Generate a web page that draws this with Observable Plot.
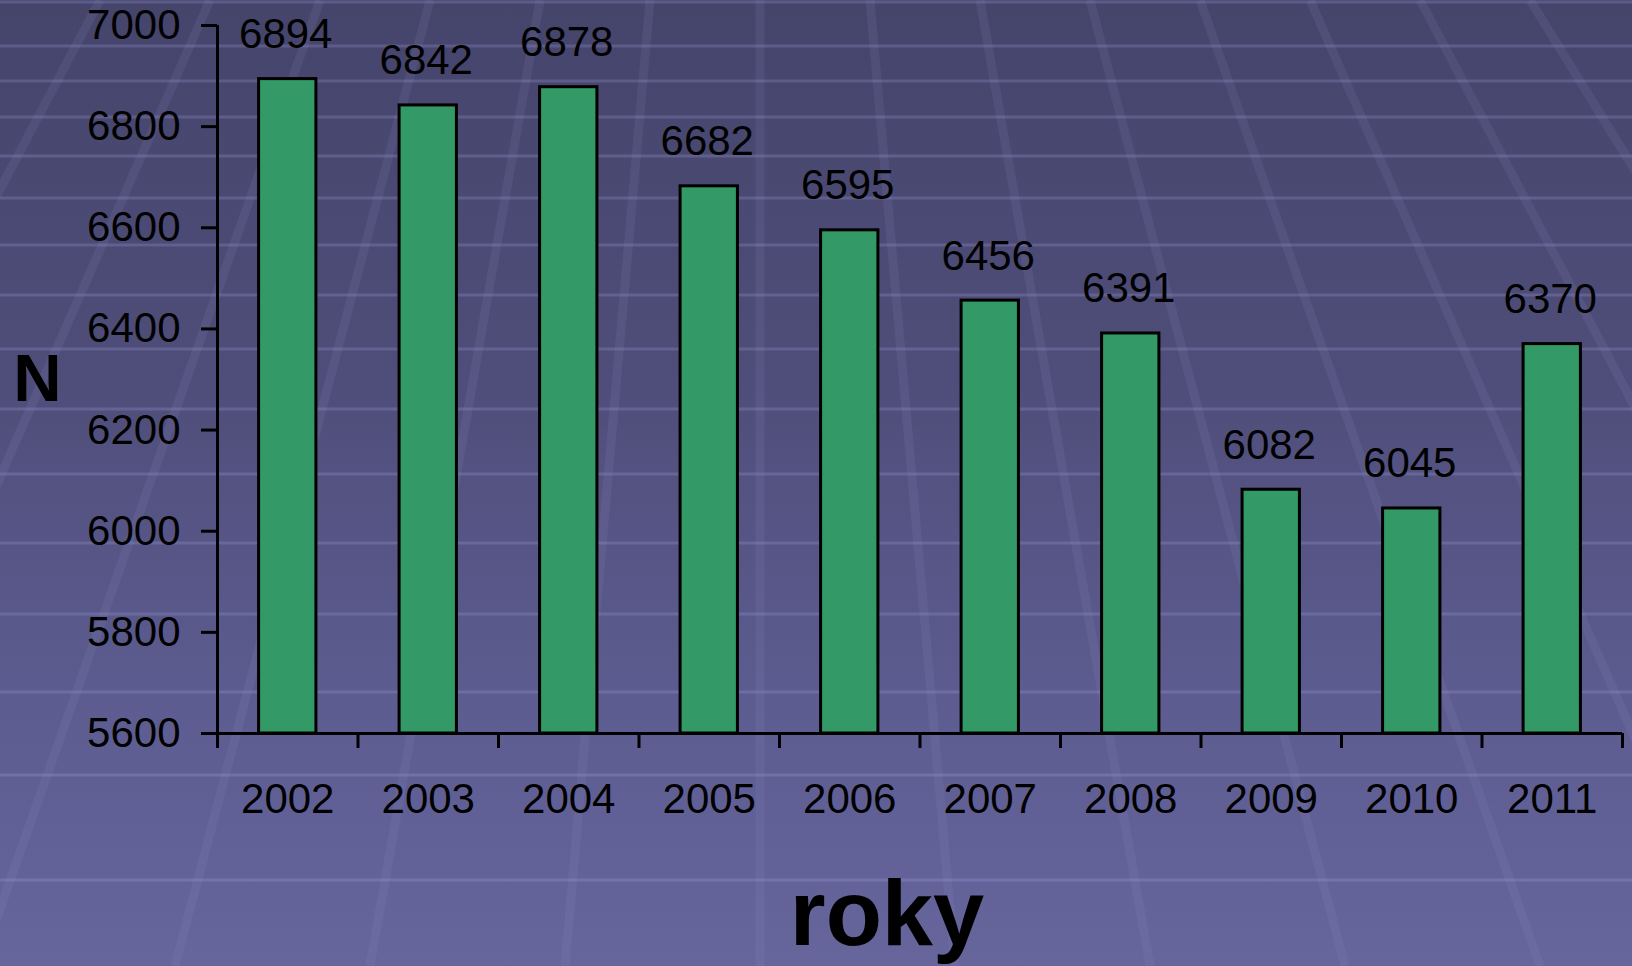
<!DOCTYPE html>
<html>
<head>
<meta charset="utf-8">
<script src="https://cdn.jsdelivr.net/npm/d3@7"></script>
<script src="https://cdn.jsdelivr.net/npm/@observablehq/plot@0.6"></script>
<style>
  html, body { margin: 0; padding: 0; width: 1632px; height: 966px; overflow: hidden; }
  body {
    position: relative;
    background: linear-gradient(to bottom, #45446b 0%, #4f4e7a 40%, #5e5d92 75%, #66659c 100%);
  }
  #bg { position: absolute; left: 0; top: 0; width: 1632px; height: 966px; }
  #chart { position: absolute; left: 0; top: 0; }
</style>
</head>
<body>
<svg id="bg" width="1632" height="966"></svg>
<div id="chart"></div>
<script>
const years = [2002, 2003, 2004, 2005, 2006, 2007, 2008, 2009, 2010, 2011];
const values = [6894, 6842, 6878, 6682, 6595, 6456, 6391, 6082, 6045, 6370];
const yTicks = [5600, 5800, 6000, 6200, 6400, 6600, 6800, 7000];
const yLabel = "N";
const xLabel = "roky";

// decorative background: horizontal stripes and perspective lines
const stripeYs = [2, 46, 81, 117, 156, 198, 245, 295, 349, 409, 474, 543, 614, 692, 775, 880];
const bg = d3.select("#bg");
bg.selectAll("line.h").data(stripeYs).join("line")
  .attr("x1", 0).attr("x2", 1632).attr("y1", d => d).attr("y2", d => d)
  .attr("stroke", "rgba(175,175,235,0.22)").attr("stroke-width", 3);
const vp = [760, -1250];
const topXs = d3.range(-7, 9).map(k => 760 + k * 110);
bg.selectAll("line.v").data(topXs).join("line")
  .attr("x1", d => d).attr("y1", 0)
  .attr("x2", d => vp[0] + (d - vp[0]) * (966 - vp[1]) / (0 - vp[1])).attr("y2", 966)
  .attr("stroke", "rgba(150,150,200,0.13)").attr("stroke-width", 9);

const data = years.map((year, i) => ({year, value: values[i]}));
const boundaries = [...years.map(y => y - 0.5), years[years.length - 1] + 0.5];
const halfBar = 0.204;

const font = "'Liberation Sans', Arial, sans-serif";

const chart = Plot.plot({
  width: 1632,
  height: 966,
  marginLeft: 217,
  marginRight: 10,
  marginTop: 25,
  marginBottom: 233,
  style: {background: "transparent", fontFamily: font, color: "black"},
  x: {type: "linear", domain: [boundaries[0], boundaries[boundaries.length - 1]]},
  y: {domain: [5600, 7000]},
  marks: [
    Plot.rect(data, {
      x1: d => d.year - halfBar,
      x2: d => d.year + halfBar,
      y1: () => 5600,
      y2: "value",
      fill: "#339966",
      stroke: "black",
      strokeWidth: 3
    }),
    Plot.axisY({ticks: yTicks, tickSize: 16, tickPadding: 21, tickFormat: d => String(d), fontSize: 42, strokeWidth: 3, label: null}),
    Plot.axisX({ticks: boundaries, tickSize: 15, tickFormat: () => "", strokeWidth: 3, label: null}),
    Plot.axisX({ticks: years, tickSize: 0, tickPadding: 50, tickFormat: d => String(d), fontSize: 42, label: null}),
    Plot.ruleX([boundaries[0]], {stroke: "black", strokeWidth: 3}),
    Plot.ruleY([5600], {stroke: "black", strokeWidth: 3}),
    Plot.text(data, {
      x: "year",
      y: "value",
      text: d => String(d.value),
      lineAnchor: "bottom",
      dy: -31,
      dx: -2,
      fontSize: 42,
      fill: "black"
    }),
    Plot.text([yLabel], {frameAnchor: "left", textAnchor: "middle", dx: -180, fontSize: 67, fontWeight: "bold", fill: "black"}),
    Plot.text([xLabel], {frameAnchor: "bottom", textAnchor: "middle", dx: -33, dy: 146, lineAnchor: "top", fontSize: 92, fontWeight: "bold", fill: "black"})
  ]
});
document.getElementById("chart").appendChild(chart);
</script>
</body>
</html>
